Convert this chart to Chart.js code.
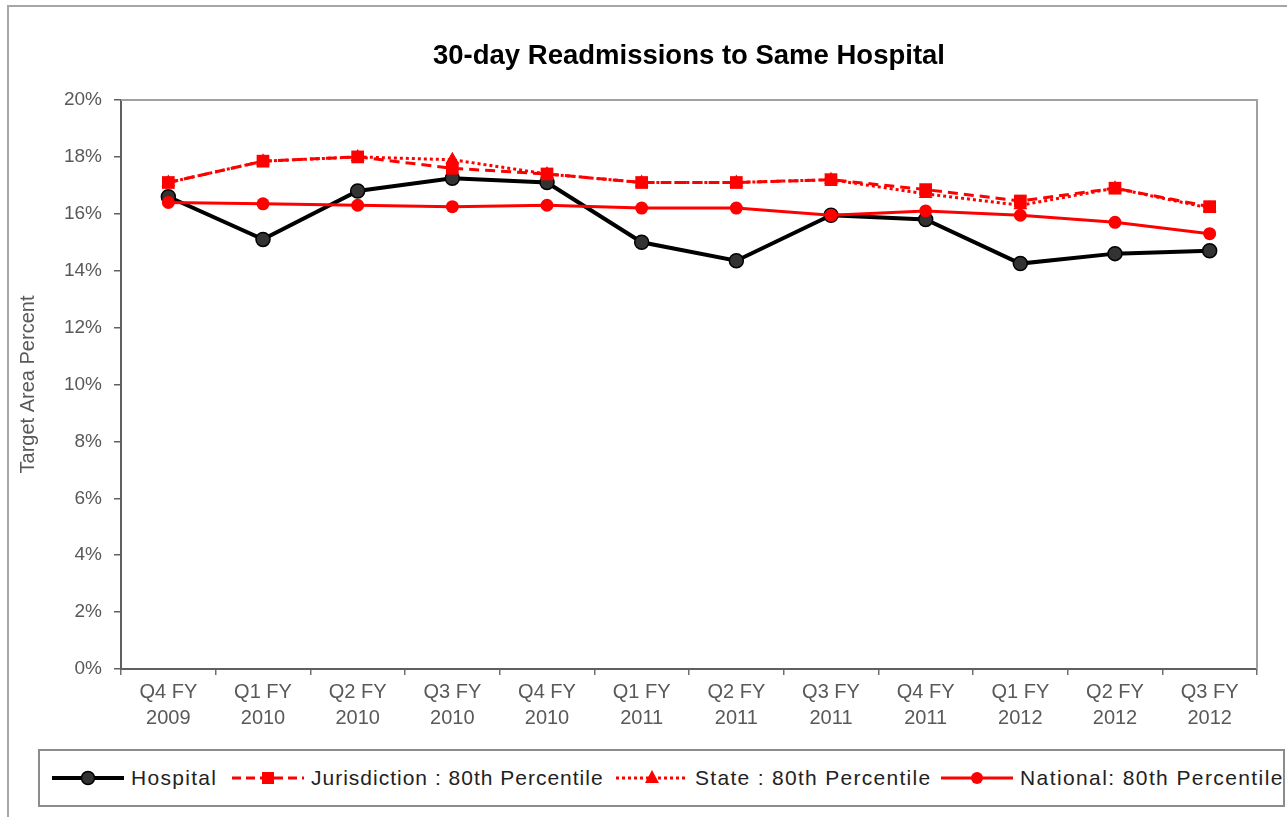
<!DOCTYPE html>
<html>
<head>
<meta charset="utf-8">
<script src="https://cdn.jsdelivr.net/npm/chart.js@4.4.1/dist/chart.umd.min.js"></script>
<style>
  html, body { margin: 0; padding: 0; background: #fff; overflow: hidden; }
  #wrap { position: relative; width: 1287px; height: 817px; }
  #frame { position: absolute; left: 7px; top: 5px; width: 1400px; height: 900px;
           border-left: 2px solid #a6a6a6; border-top: 2px solid #a6a6a6; pointer-events: none; }
  canvas { position: absolute; left: 0; top: 0; }
  #legend { position: absolute; left: 38px; top: 749px; width: 1247px; height: 58px;
            border: 2px solid #8c8c8c; box-sizing: border-box; background: #fff;
            font-family: "Liberation Sans", Arial, sans-serif; font-size: 21px; color: #222;
            letter-spacing: 1.25px; white-space: nowrap; overflow: hidden; }
  .item { position: absolute; top: 0; height: 54px; display: flex; align-items: center; }
  .item svg { margin-right: 7px; }
</style>
</head>
<body>
<div id="wrap">
  <canvas id="c" width="1287" height="817"></canvas>
  <div id="frame"></div>
  <div id="legend"></div>
</div>
<script>
// ---- data ----
const quarters = ['Q4 FY','Q1 FY','Q2 FY','Q3 FY','Q4 FY','Q1 FY','Q2 FY','Q3 FY','Q4 FY','Q1 FY','Q2 FY','Q3 FY'];
const years    = ['2009','2010','2010','2010','2010','2011','2011','2011','2011','2012','2012','2012'];
const hospital     = [16.6, 15.1, 16.8, 17.25, 17.1, 15.0, 14.35, 15.95, 15.8, 14.25, 14.6, 14.7];
const jurisdiction = [17.1, 17.85, 18.0, 17.6, 17.4, 17.1, 17.1, 17.2, 16.85, 16.45, 16.9, 16.25];
const state        = [17.1, 17.85, 18.0, 17.9, 17.4, 17.1, 17.1, 17.2, 16.7, 16.3, 16.9, 16.2];
const national     = [16.4, 16.35, 16.3, 16.25, 16.3, 16.2, 16.2, 15.95, 16.1, 15.95, 15.7, 15.3];
const seriesNames  = ['Hospital', 'Jurisdiction : 80th Percentile', 'State : 80th Percentile', 'National: 80th Percentile'];
const chartTitle   = '30-day Readmissions to Same Hospital';
const yTitle       = 'Target Area Percent';

const labels = quarters.map((q, i) => [q, years[i]]);
const RED = '#ff0000';
const FONT = '"Liberation Sans", Arial, sans-serif';

const plotBorder = {
  id: 'plotBorder',
  beforeDatasetsDraw(chart) {
    const a = chart.chartArea, ctx = chart.ctx;
    ctx.save();
    ctx.strokeStyle = '#a0a0a0';
    ctx.lineWidth = 2;
    ctx.beginPath();
    ctx.moveTo(a.left, a.top);
    ctx.lineTo(a.right, a.top);
    ctx.lineTo(a.right, a.bottom);
    ctx.stroke();
    ctx.restore();
  }
};

new Chart(document.getElementById('c'), {
  type: 'line',
  data: {
    labels: labels,
    datasets: [
      { label: seriesNames[0], data: hospital, borderColor: '#000', borderWidth: 4,
        pointRadius: 7, pointHoverRadius: 7, pointBackgroundColor: '#333', pointBorderColor: '#000',
        pointBorderWidth: 1.5, order: 4, tension: 0 },
      { label: seriesNames[1], data: jurisdiction, borderColor: RED, borderWidth: 3, borderDash: [10, 6],
        pointStyle: 'rect', pointRadius: 9, pointHoverRadius: 9, pointBackgroundColor: RED, pointBorderColor: RED,
        pointBorderWidth: 0, order: 3, tension: 0 },
      { label: seriesNames[2], data: state, borderColor: RED, borderWidth: 3, borderDash: [3, 3],
        pointStyle: 'triangle', pointRadius: 8, pointHoverRadius: 8, pointBackgroundColor: RED, pointBorderColor: RED,
        pointBorderWidth: 0, order: 2, tension: 0 },
      { label: seriesNames[3], data: national, borderColor: RED, borderWidth: 3,
        pointRadius: 6.5, pointHoverRadius: 6.5, pointBackgroundColor: RED, pointBorderColor: RED,
        pointBorderWidth: 0, order: 1, tension: 0 }
    ]
  },
  options: {
    responsive: false,
    animation: false,
    events: [],
    layout: { padding: { left: 8, right: 30, top: 5, bottom: 88 } },
    plugins: {
      legend: { display: false },
      tooltip: { enabled: false },
      title: {
        display: true, text: chartTitle, color: '#000', fullSize: false,
        font: { family: FONT, size: 27.5, weight: 'bold', lineHeight: 1.2 },
        padding: { top: 35, bottom: 27 }
      }
    },
    scales: {
      x: {
        offset: true,
        grid: { display: true, offset: true, drawOnChartArea: false, drawTicks: true, tickLength: 6,
                color: '#707070', lineWidth: 1.5 },
        border: { display: true, color: '#606060', width: 2 },
        ticks: { color: '#595959', font: { family: FONT, size: 20, lineHeight: 1.3 }, padding: 4,
                 maxRotation: 0, autoSkip: false },
        afterFit(s) { s.height = 60; }
      },
      y: {
        min: 0, max: 20,
        grid: { display: true, drawOnChartArea: false, drawTicks: true, tickLength: 7,
                color: '#606060', lineWidth: 1.5 },
        border: { display: true, color: '#606060', width: 2 },
        ticks: { stepSize: 2, color: '#595959', font: { family: FONT, size: 19 }, padding: 12,
                 callback: v => v + '%' },
        title: { display: true, text: yTitle, color: '#595959',
                 font: { family: FONT, size: 20, lineHeight: 1.2 }, padding: { top: 8, bottom: 0 } },
        afterFit(s) { s.width = 113; }
      }
    }
  },
  plugins: [plotBorder]
});

// ---- HTML legend ----
const legendSpecs = [
  { name: seriesNames[0], left: 12,  ls: 1.3, svg: '<line x1="0" y1="12" x2="72" y2="12" stroke="#000" stroke-width="4"/><circle cx="36" cy="12" r="6.5" fill="#333" stroke="#000" stroke-width="1.5"/>' },
  { name: seriesNames[1], left: 192, ls: 1.0, svg: '<line x1="0" y1="12" x2="72" y2="12" stroke="' + RED + '" stroke-width="3" stroke-dasharray="9 5"/><rect x="30" y="6" width="12" height="12" fill="' + RED + '"/>' },
  { name: seriesNames[2], left: 576, ls: 1.3, svg: '<line x1="0" y1="12" x2="72" y2="12" stroke="' + RED + '" stroke-width="3" stroke-dasharray="3 3"/><polygon points="36,4 43,17 29,17" fill="' + RED + '"/>' },
  { name: seriesNames[3], left: 901, ls: 1.4, svg: '<line x1="0" y1="12" x2="72" y2="12" stroke="' + RED + '" stroke-width="3"/><circle cx="36" cy="12" r="6" fill="' + RED + '"/>' }
];
const lg = document.getElementById('legend');
legendSpecs.forEach(s => {
  const d = document.createElement('div');
  d.className = 'item';
  d.style.left = s.left + 'px';
  d.style.letterSpacing = s.ls + 'px';
  d.innerHTML = '<svg width="72" height="24" viewBox="0 0 72 24">' + s.svg + '</svg><span>' + s.name + '</span>';
  lg.appendChild(d);
});
</script>
</body>
</html>
